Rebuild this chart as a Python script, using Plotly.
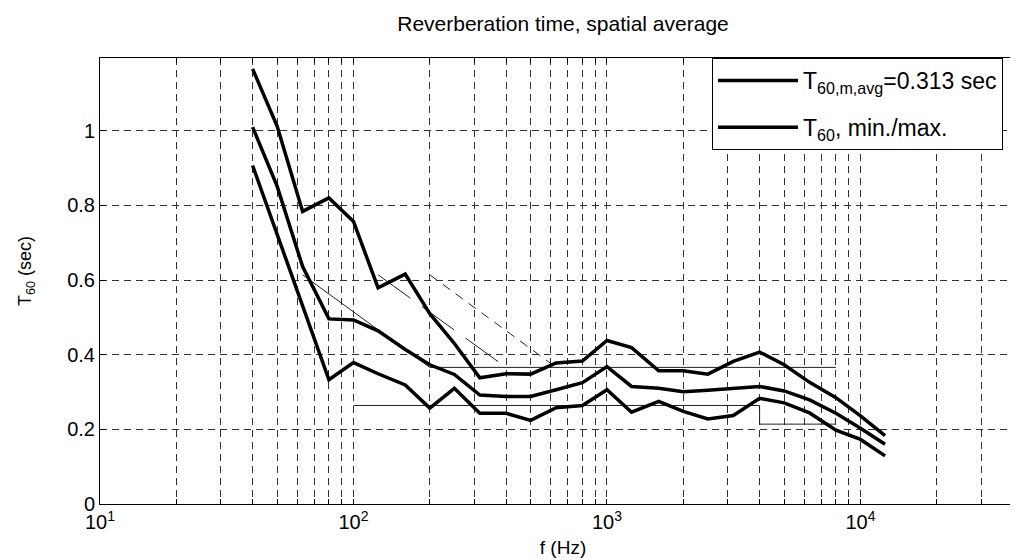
import plotly.graph_objects as go

# 1/3-octave band centre frequencies (Hz)
freq = [40, 50, 63, 80, 100, 125, 160, 200, 250, 315, 400, 500, 630, 800,
        1000, 1250, 1600, 2000, 2500, 3150, 4000, 5000, 6300, 8000, 10000, 12500]

t60_max = [1.166, 1.012, 0.784, 0.820, 0.757, 0.579, 0.616, 0.510, 0.430, 0.338,
           0.349, 0.348, 0.378, 0.383, 0.438, 0.419, 0.357, 0.357, 0.348, 0.382,
           0.407, 0.373, 0.326, 0.285, 0.236, 0.183]
t60_avg = [1.010, 0.851, 0.636, 0.496, 0.493, 0.464, 0.414, 0.373, 0.347, 0.292,
           0.288, 0.288, 0.306, 0.325, 0.368, 0.315, 0.310, 0.301, 0.305, 0.310,
           0.315, 0.303, 0.279, 0.243, 0.203, 0.160]
t60_min = [0.907, 0.722, 0.535, 0.333, 0.379, 0.349, 0.319, 0.257, 0.310, 0.243,
           0.243, 0.224, 0.258, 0.264, 0.306, 0.246, 0.275, 0.248, 0.228, 0.237,
           0.283, 0.271, 0.244, 0.198, 0.173, 0.129]

# tolerance template lines
tol1_f = [63, 200, 8000]
tol1_v = [0.614, 0.366, 0.366]
tol2_f = [125, 400]
tol2_v = [0.614, 0.366]
tol3_f = [200, 630]
tol3_v = [0.614, 0.366]
low_f = [100, 4000, 4000, 8000]
low_v = [0.264, 0.264, 0.214, 0.214]

legend_avg = "T<sub>60,m,avg</sub>=0.313 sec"
legend_mm = "T<sub>60</sub>, min./max."
title_text = "Reverberation time, spatial average"
xlabel = "f (Hz)"
ylabel = "T<sub>60</sub> (sec)"

y_ticks = [0, 0.2, 0.4, 0.6, 0.8, 1.0]
y_ticktext = ["0", "0.2", "0.4", "0.6", "0.8", "1"]

x_ticks = []
x_ticktext = []
for dec in [10, 100, 1000, 10000]:
    for m in range(1, 10):
        x_ticks.append(dec * m)
        if m == 1:
            exp = len(str(dec)) - 1
            x_ticktext.append("10<sup>%d</sup>" % exp)
        else:
            x_ticktext.append("")

thin = "#222222"
fig = go.Figure()
fig.add_trace(go.Scatter(x=tol1_f, y=tol1_v, mode="lines",
                         line=dict(color=thin, width=1), showlegend=False, hoverinfo="skip"))
fig.add_trace(go.Scatter(x=tol2_f, y=tol2_v, mode="lines",
                         line=dict(color=thin, width=1, dash="40px,14px"), showlegend=False, hoverinfo="skip"))
fig.add_trace(go.Scatter(x=tol3_f, y=tol3_v, mode="lines",
                         line=dict(color=thin, width=1, dash="9px,7px"), showlegend=False, hoverinfo="skip"))
fig.add_trace(go.Scatter(x=low_f, y=low_v, mode="lines",
                         line=dict(color=thin, width=1), showlegend=False, hoverinfo="skip"))

fig.add_trace(go.Scatter(x=freq, y=t60_avg, mode="lines", name=legend_avg, legendgroup="a",
                         line=dict(color="black", width=3.5)))
fig.add_trace(go.Scatter(x=freq, y=t60_min, mode="lines", name=legend_mm, legendgroup="b",
                         line=dict(color="black", width=3.5)))
fig.add_trace(go.Scatter(x=freq, y=t60_max, mode="lines", showlegend=False, legendgroup="b",
                         line=dict(color="black", width=3.5)))

font = "Liberation Sans, Arial, sans-serif"
fig.update_layout(
    width=1018, height=560,
    margin=dict(l=92, r=0, t=50, b=64),
    paper_bgcolor="white", plot_bgcolor="white",
    font=dict(family=font, size=20, color="black"),
    title=dict(text=title_text, x=0.5, xref="paper", xanchor="center",
               yref="container", y=0.972, yanchor="middle", font=dict(size=21)),
    showlegend=True,
    legend=dict(x=(704 - 92) / (1018 - 92), xanchor="left",
                y=1.0, yanchor="top",
                bordercolor="black", borderwidth=1, bgcolor="white",
                font=dict(size=23), itemwidth=80, tracegroupgap=14,
                traceorder="grouped"),
    annotations=[dict(text=ylabel, textangle=-90, xref="paper", yref="paper",
                      x=(18 - 92) / (1018 - 92), y=(496 - 263) / 446,
                      xanchor="center", yanchor="middle", showarrow=False,
                      font=dict(size=18))],
)
fig.update_xaxes(
    type="log", range=[1, 4.653],
    tickmode="array", tickvals=x_ticks, ticktext=x_ticktext,
    tickfont=dict(size=20),
    showgrid=True, gridcolor="#333333", gridwidth=1, griddash="7px,5px",
    showline=True, linecolor="black", linewidth=1, mirror="allticks",
    ticks="inside", ticklen=5, tickcolor="black",
    zeroline=False,
    title=dict(text=xlabel, standoff=8, font=dict(size=19)),
)
fig.update_yaxes(
    range=[0, 1.195],
    tickmode="array", tickvals=y_ticks, ticktext=y_ticktext,
    tickfont=dict(size=20),
    showgrid=True, gridcolor="#333333", gridwidth=1, griddash="7px,5px",
    showline=True, linecolor="black", linewidth=1, mirror=False,
    ticks="inside", ticklen=5, tickcolor="black",
    zeroline=False,
)

fig.write_html("out.html")
